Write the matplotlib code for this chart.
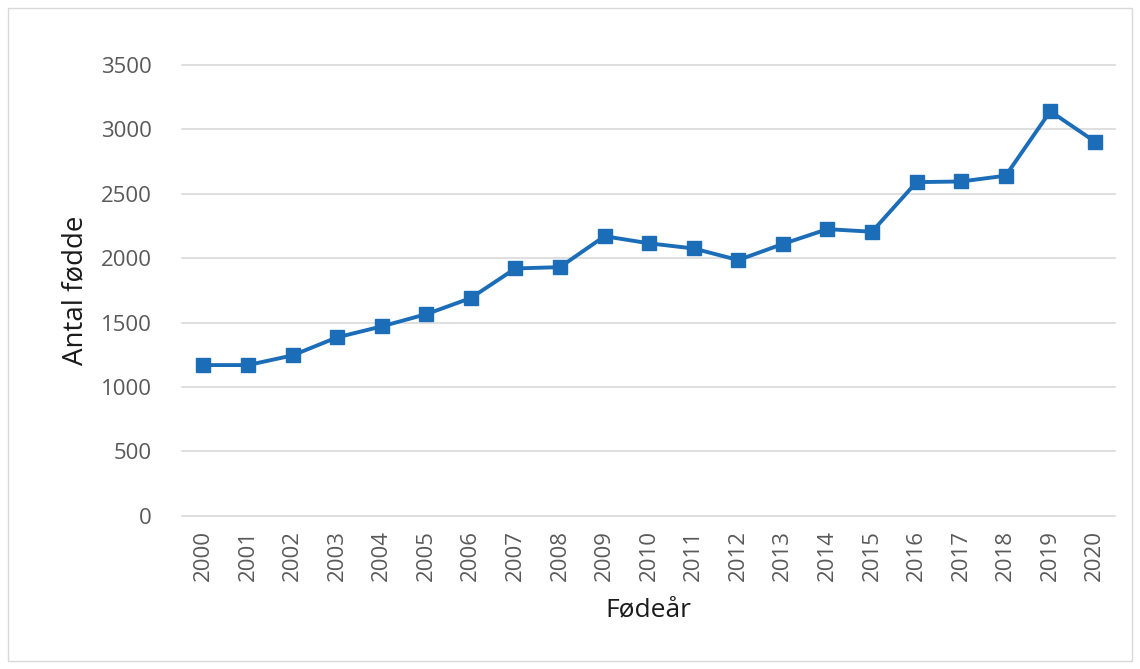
import matplotlib.pyplot as plt
from matplotlib.patches import Rectangle

years = [str(y) for y in range(2000, 2021)]
births = [1170, 1170, 1245, 1385, 1470, 1565, 1690, 1920, 1930, 2170,
          2115, 2075, 1985, 2110, 2225, 2205, 2590, 2595, 2640, 3140, 2905]

plt.rcParams['font.family'] = ['Open Sans', 'DejaVu Sans']

fig = plt.figure(figsize=(11.4, 6.69), dpi=100)
ax = fig.add_axes([0.16, 0.229, 0.818, 0.674])

x = range(len(years))
ax.plot(x, births, color='#1b6db8', linewidth=2.8, marker='s', markersize=10,
        zorder=3)

ax.set_xlim(-0.47, 20.45)
ax.set_ylim(0, 3500)
ax.set_yticks(range(0, 3501, 500))
ax.set_xticks(list(x))
ax.set_xticklabels(years, rotation=90)
ax.tick_params(axis='both', length=0, labelsize=16, labelcolor='#595959')
ax.tick_params(axis='y', pad=22)
ax.tick_params(axis='x', pad=10)
ax.grid(axis='y', color='#d9d9d9', linewidth=1.2)
for gl in ax.get_ygridlines():
    gl.set_clip_on(False)
ax.set_axisbelow(True)
for s in ax.spines.values():
    s.set_visible(False)

ax.set_ylabel("Antal fødde", fontsize=20, color='#1a1a1a', labelpad=8)
ax.set_xlabel("Fødeår", fontsize=19, color='#1a1a1a', labelpad=12)

fig.patches.append(Rectangle((0.007, 0.012), 0.986, 0.976, transform=fig.transFigure,
                             fill=False, edgecolor='#d9d9d9', linewidth=1))

fig.savefig("out.png", dpi=100)
